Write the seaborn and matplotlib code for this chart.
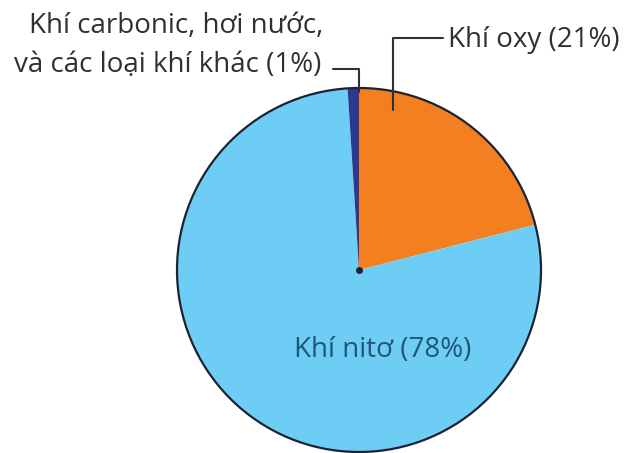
import matplotlib
matplotlib.use("Agg")
import matplotlib.pyplot as plt
from matplotlib.patches import Circle
import seaborn as sns

# composition of air
labels = ["Khí oxy (21%)", "Khí nitơ (78%)", "Khí carbonic, hơi nước,", "và các loại khí khác (1%)"]
shares = [21, 78, 1]
colors = ["#f47f20", "#6dcdf4", "#2b3a8f"]

sns.set_theme(style="white")
plt.rcParams['font.family'] = ['Open Sans', 'DejaVu Sans']

W, H = 628, 453
fig = plt.figure(figsize=(W / 100, H / 100), dpi=100)
ax = fig.add_axes([0, 0, 1, 1])

cx, cy, r = 359, H - 270, 182
ax.pie(shares, colors=colors, startangle=90, counterclock=False,
       center=(cx, cy), radius=r, frame=True,
       wedgeprops=dict(edgecolor='none', linewidth=0))
ax.add_patch(Circle((cx, cy), r, fill=False, edgecolor='#1c2233', lw=1.6))
ax.plot([cx], [cy], 'o', color='#1c2233', ms=4)

ax.set_xlim(0, W)
ax.set_ylim(0, H)
ax.set_aspect('equal')
ax.axis('off')

txt = '#303030'
fs = 20
# leader for oxygen
ax.plot([393, 393, 443], [H - 110, H - 38, H - 38], color=txt, lw=1.5)
ax.text(448, H - 47, labels[0], fontsize=fs, color=txt, va='baseline', ha='left')

# leader for others
ax.plot([333, 359, 359], [H - 69, H - 69, H - 92], color=txt, lw=1.5)
ax.text(323, H - 33, labels[2], fontsize=fs, color=txt, va='baseline', ha='right')
ax.text(321, H - 72, labels[3], fontsize=fs, color=txt, va='baseline', ha='right')

ax.text(383, H - 357, labels[1], fontsize=fs, color='#1f5676', va='baseline', ha='center')

fig.savefig("out.png", dpi=100, facecolor='white')
